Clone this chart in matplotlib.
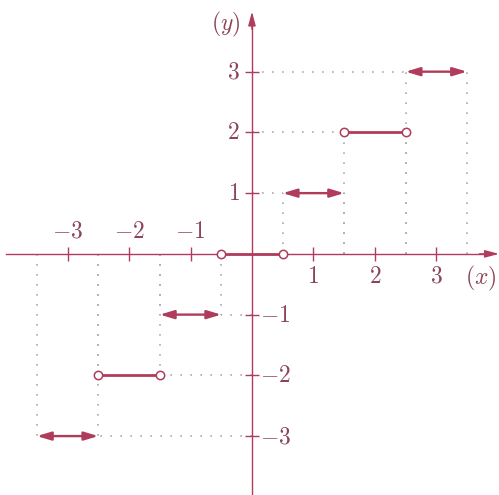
import matplotlib
matplotlib.use("Agg")
import matplotlib.pyplot as plt

plt.rcParams['mathtext.fontset'] = 'cm'

# Step function data (rounding function)
levels = [-3, -2, -1, 0, 1, 2, 3]
starts = [-3.5, -2.5, -1.5, -0.5, 0.5, 1.5, 2.5]
ends = [-2.5, -1.5, -0.5, 0.5, 1.5, 2.5, 3.5]
styles = ['arrow', 'circle', 'arrow', 'circle', 'arrow', 'circle', 'arrow']
x_ticks = [-3, -2, -1, 1, 2, 3]
y_ticks = [-3, -2, -1, 1, 2, 3]
x_tick_labels = [r'$-3$', r'$-2$', r'$-1$', r'$1$', r'$2$', r'$3$']
y_tick_labels = [r'$-3$', r'$-2$', r'$-1$', r'$1$', r'$2$', r'$3$']

LINE = '#b03c5c'
TEXT = '#8c4458'
DOT = '#ababab'

fig = plt.figure(figsize=(4.99, 4.95), dpi=100)
ax = fig.add_axes([0, 0, 1, 1])
ax.set_xlim(-4.10, 4.02)
ax.set_ylim(-3.97, 4.18)
ax.axis('off')

dot_kw = dict(color=DOT, lw=1.2, linestyle=(0, (1, 5)), zorder=1)

# dotted guide lines
for lv, s, e in zip(levels, starts, ends):
    if lv == 0:
        continue
    ax.plot([s, s], [0, lv], **dot_kw)
    ax.plot([e, e], [0, lv], **dot_kw)
    near = s if lv > 0 else e
    ax.plot([0, near], [lv, lv], **dot_kw)

AX_ARROW = '-|>,head_length=0.6,head_width=0.16'
SEG_ARROW = '<|-|>,head_length=0.6,head_width=0.18'

# axes
ax.plot([-4.0, 3.8], [0, 0], color=LINE, lw=1.0, zorder=2)
ax.annotate('', xy=(4.02, 0), xytext=(3.7, 0),
            arrowprops=dict(arrowstyle=AX_ARROW, color=LINE, lw=1.0,
                            mutation_scale=14, shrinkA=0, shrinkB=0), zorder=2)
ax.plot([0, 0], [-3.97, 3.8], color=LINE, lw=1.0, zorder=2)
ax.annotate('', xy=(0, 3.99), xytext=(0, 3.7),
            arrowprops=dict(arrowstyle=AX_ARROW, color=LINE, lw=1.0,
                            mutation_scale=14, shrinkA=0, shrinkB=0), zorder=2)

# ticks
ax.plot(x_ticks, [0] * len(x_ticks), linestyle='none', marker='|',
        markersize=10, markeredgewidth=1.0, color=LINE, zorder=2)
ax.plot([0] * len(y_ticks), y_ticks, linestyle='none', marker='_',
        markersize=10, markeredgewidth=1.0, color=LINE, zorder=2)

# tick labels
FS = 17
for xv, lab in zip(x_ticks, x_tick_labels):
    if xv < 0:
        ax.annotate(lab, (xv, 0), xytext=(0, 8), textcoords='offset points',
                    ha='center', va='bottom', fontsize=FS, color=TEXT)
    else:
        ax.annotate(lab, (xv, 0), xytext=(0, -7), textcoords='offset points',
                    ha='center', va='top', fontsize=FS, color=TEXT)
for yv, lab in zip(y_ticks, y_tick_labels):
    if yv > 0:
        ax.annotate(lab, (0, yv), xytext=(-9, 0), textcoords='offset points',
                    ha='right', va='center', fontsize=FS, color=TEXT)
    else:
        ax.annotate(lab, (0, yv), xytext=(6, 0), textcoords='offset points',
                    ha='left', va='center', fontsize=FS, color=TEXT)

ax.annotate(r'$(x)$', (3.72, 0), xytext=(0, -7), textcoords='offset points',
            ha='center', va='top', fontsize=FS, color=TEXT)
ax.annotate(r'$(y)$', (0, 3.77), xytext=(-8, 0), textcoords='offset points',
            ha='right', va='center', fontsize=FS, color=TEXT)

# step segments
for lv, s, e, st in zip(levels, starts, ends, styles):
    if st == 'arrow':
        ax.annotate('', xy=(e, lv), xytext=(s, lv),
                    arrowprops=dict(arrowstyle=SEG_ARROW,
                                    color=LINE, lw=1.7,
                                    mutation_scale=14, shrinkA=0, shrinkB=0),
                    zorder=3)
    else:
        ax.plot([s, e], [lv, lv], color=LINE, lw=2.0, zorder=3,
                solid_capstyle='butt')
        ax.plot([s, e], [lv, lv], linestyle='none', marker='o',
                markersize=6, markerfacecolor='white',
                markeredgecolor=LINE, markeredgewidth=1.1, zorder=4)

fig.savefig('out.png', dpi=100)
